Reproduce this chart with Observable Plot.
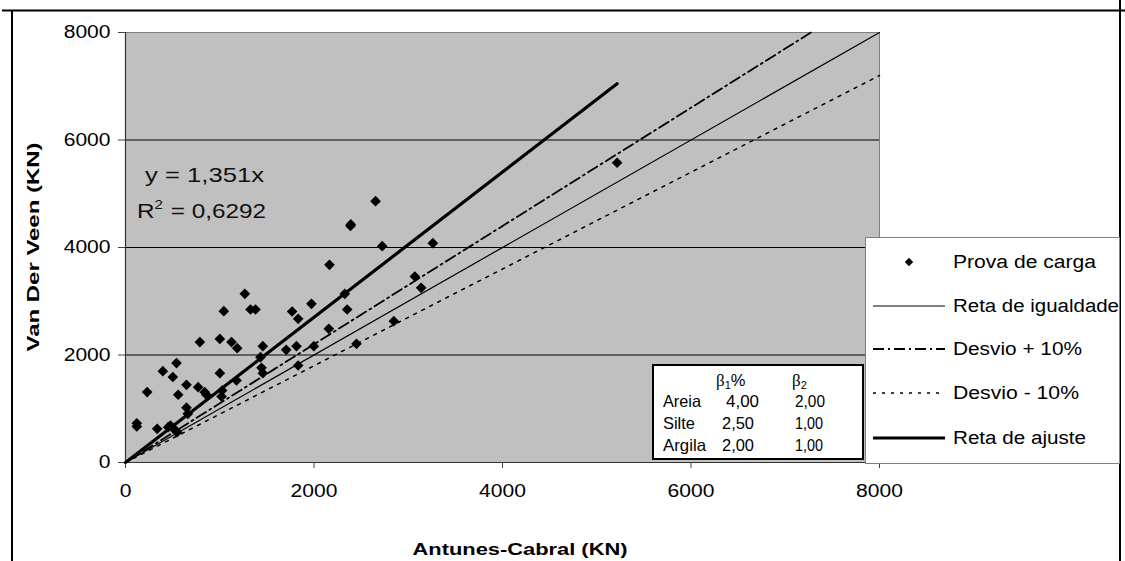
<!DOCTYPE html>
<html>
<head>
<meta charset="utf-8">
<script src="https://cdn.jsdelivr.net/npm/d3@7"></script>
<script src="https://cdn.jsdelivr.net/npm/@observablehq/plot@0.6"></script>
<style>
  body { margin: 0; background: #fff; }
  #chart svg { display: block; }
</style>
</head>
<body>
<div id="chart"></div>
<script>
// ---- Data ----
const antunesCabral = [120, 120, 230, 336, 396, 453, 477, 512, 530, 548, 502, 541, 559, 647, 647, 661, 771, 789, 841, 859,
  1001, 1001, 1026, 1019, 1043, 1125, 1185, 1178, 1266, 1326, 1379, 1457, 1432, 1443, 1457, 1705, 1768, 1832, 1814, 1832,
  1973, 1998, 2164, 2157, 2327, 2352, 2451, 2387, 2390, 2653, 2724, 2847, 3261, 3070, 3137, 5216];
const vanDerVeen = [730, 670, 1310, 627, 1700, 657, 688, 627, 595, 564, 1590, 1850, 1260, 1445, 1020, 905, 1401, 2240, 1308, 1259,
  2300, 1662, 1340, 1228, 2815, 2240, 2127, 1526, 3138, 2846, 2846, 2164, 1960, 1761, 1662, 2096, 2809, 2673, 2164, 1805,
  2952, 2164, 3678, 2487, 3138, 2846, 2208, 4400, 4430, 4862, 4025, 2629, 4080, 3460, 3250, 5576];

const refLineNames = ["Reta de igualdade", "Desvio + 10%", "Desvio - 10%", "Reta de ajuste"];
const refSlopes = [1, 1.1, 0.9, 1.351];
const refXEnd = [8000, 7273, 8000, 5216];

const xTicks = [0, 2000, 4000, 6000, 8000];
const yTicks = [0, 2000, 4000, 6000, 8000];
const gridValues = [2000, 4000, 6000];

const legendLabels = ["Prova de carga", ...refLineNames];
const soils = ["Areia", "Silte", "Argila"];
const beta1 = ["4,00", "2,50", "2,00"];
const beta2 = ["2,00", "1,00", "1,00"];
const equationText = "y = 1,351x";
const r2Value = "0,6292";
const xTitle = "Antunes-Cabral (KN)";
const yTitle = "Van Der Veen (KN)";

// ---- Build tables ----
const points = antunesCabral.map((x, i) => ({x, y: vanDerVeen[i]}));
const refLines = refLineNames.flatMap((name, i) => [
  {name, x: 0, y: 0},
  {name, x: refXEnd[i], y: refSlopes[i] * refXEnd[i]}
]);

const lineStyle = {
  "Reta de igualdade": {strokeWidth: 1.2, strokeDasharray: null},
  "Desvio + 10%": {strokeWidth: 1.8, strokeDasharray: "11,4,2,4"},
  "Desvio - 10%": {strokeWidth: 1.5, strokeDasharray: "3,6"},
  "Reta de ajuste": {strokeWidth: 3.2, strokeDasharray: null}
};

const font = "Arial, 'Liberation Sans', sans-serif";

const svg = Plot.plot({
  width: 1125,
  height: 561,
  marginLeft: 125,
  marginRight: 246,
  marginTop: 32,
  marginBottom: 99,
  style: {fontFamily: font, background: "white", color: "black", overflow: "visible"},
  x: {domain: [0, 8000]},
  y: {domain: [0, 8000]},
  marks: [
    Plot.frame({fill: "#c0c0c0", stroke: "#808080"}),
    Plot.gridY(gridValues, {stroke: "black", strokeOpacity: 1, strokeWidth: 1}),
    Plot.axisY(yTicks, {tickSize: 7, tickPadding: 8, fontSize: 18, tickFormat: d => String(d), label: null, stroke: "#444"}),
    Plot.axisX(xTicks, {tickSize: 6, tickPadding: 16, fontSize: 18, tickFormat: d => String(d), label: null, stroke: "#444"}),
    Plot.ruleX([0], {stroke: "#333", strokeWidth: 1.2}),
    Plot.ruleY([0], {stroke: "#333", strokeWidth: 1.2}),
    ...refLineNames.map(name => Plot.line(refLines.filter(d => d.name === name), {
      x: "x", y: "y", stroke: "black", ...lineStyle[name]
    })),
    Plot.dot(points, {x: "x", y: "y", symbol: "diamond2", r: 4.8, fill: "black", stroke: "none"})
  ]
});

document.getElementById("chart").appendChild(svg);

const s = d3.select(svg);

// widen tick labels to match the stretched glyphs of the original
s.selectAll("g[aria-label='y-axis tick label'] text, g[aria-label='x-axis tick label'] text")
  .each(function() {
    const t = d3.select(this);
    t.attr("textLength", t.text().length * 11.7).attr("lengthAdjust", "spacingAndGlyphs");
  });

function stretchedText(g, x, y, str, len) {
  return g.append("text").attr("x", x).attr("y", y)
    .attr("textLength", len).attr("lengthAdjust", "spacingAndGlyphs").text(str);
}

// Outer border
const border = s.append("g").attr("stroke", "black").attr("stroke-width", 2);
border.append("line").attr("x1", 2).attr("x2", 1125).attr("y1", 10.5).attr("y2", 10.5);
border.append("line").attr("x1", 12).attr("x2", 12).attr("y1", 10).attr("y2", 561);
border.append("line").attr("x1", 1120).attr("x2", 1120).attr("y1", 0).attr("y2", 561);

// Equation text
const eq = s.append("g").attr("font-family", font).attr("font-size", 21).attr("fill", "#111").attr("text-anchor", "start");
stretchedText(eq, 145, 182, equationText, 119);
const r2 = eq.append("text").attr("x", 137).attr("y", 218);
r2.append("tspan").text("R");
r2.append("tspan").attr("dy", -9).attr("font-size", 13).text("2");
r2.append("tspan").attr("dy", 9).attr("dx", 1).text(" = " + r2Value);
r2.attr("textLength", 129).attr("lengthAdjust", "spacingAndGlyphs");

// Axis titles
s.append("text").attr("font-family", font).attr("font-weight", "bold").attr("font-size", 17)
  .attr("text-anchor", "middle").attr("x", 520).attr("y", 555)
  .attr("textLength", 215).attr("lengthAdjust", "spacingAndGlyphs").text(xTitle);
s.append("text").attr("font-family", font).attr("font-weight", "bold").attr("font-size", 17)
  .attr("text-anchor", "middle").attr("transform", "translate(39,247) rotate(-90)")
  .attr("textLength", 209).attr("lengthAdjust", "spacingAndGlyphs").text(yTitle);

// Parameters table
const tb = s.append("g").attr("font-family", font).attr("font-size", 16.5).attr("fill", "black").attr("text-anchor", "start");
tb.append("rect").attr("x", 653).attr("y", 365).attr("width", 210).attr("height", 94)
  .attr("fill", "white").attr("stroke", "black").attr("stroke-width", 2);
const h1 = tb.append("text").attr("x", 716).attr("y", 386);
h1.append("tspan").attr("font-family", "'Liberation Serif', serif").attr("font-size", 17).text("β");
h1.append("tspan").attr("font-size", 11).attr("dy", 3).text("1");
h1.append("tspan").attr("dy", -3).text("%");
const h2 = tb.append("text").attr("x", 792).attr("y", 386);
h2.append("tspan").attr("font-family", "'Liberation Serif', serif").attr("font-size", 17).text("β");
h2.append("tspan").attr("font-size", 11).attr("dy", 3).text("2");
const rowY = [407, 429, 451];
const nameLen = [38, 32, 43];
const b1Len = [33, 32, 32];
const b2Len = [30, 28, 28];
soils.forEach((name, i) => {
  stretchedText(tb, 663, rowY[i], name, nameLen[i]);
  stretchedText(tb, i === 0 ? 726 : 722, rowY[i], beta1[i], b1Len[i]);
  stretchedText(tb, 795, rowY[i], beta2[i], b2Len[i]);
});

// Legend
const lg = s.append("g").attr("font-family", font).attr("font-size", 18).attr("fill", "black").attr("text-anchor", "start");
lg.append("rect").attr("x", 865.5).attr("y", 237.5).attr("width", 254).attr("height", 226)
  .attr("fill", "white").attr("stroke", "#808080");
const legY = [262, 306, 349, 393, 438];
const legLen = [143, 166, 129, 126, 133];
legendLabels.forEach((label, i) => {
  const y = legY[i];
  if (i === 0) {
    lg.append("path").attr("d", d3.symbol(d3.symbolDiamond2, 45)()).attr("transform", `translate(909,${y})`).attr("fill", "black");
  } else {
    const st = lineStyle[label];
    lg.append("line").attr("x1", 873).attr("x2", 945).attr("y1", y).attr("y2", y)
      .attr("stroke", "black").attr("stroke-width", st.strokeWidth)
      .attr("stroke-dasharray", st.strokeDasharray);
  }
  stretchedText(lg, 953, y, label, legLen[i]).attr("dy", "0.35em");
});
</script>
</body>
</html>
